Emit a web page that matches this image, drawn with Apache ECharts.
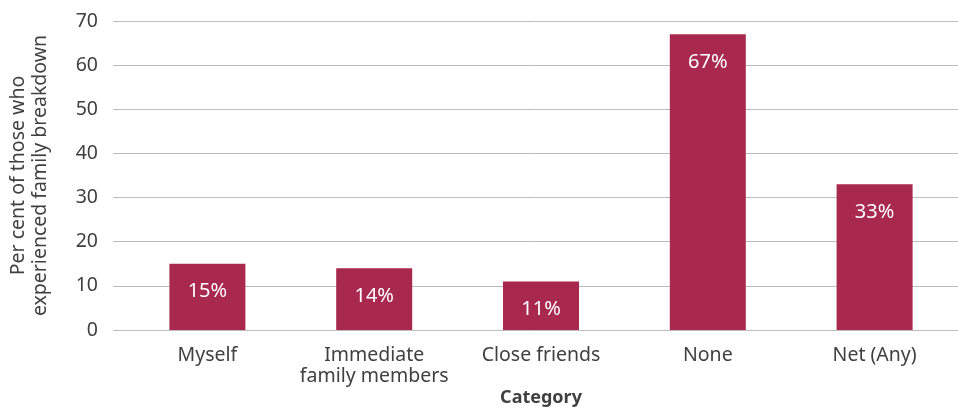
<!DOCTYPE html>
<html>
<head>
<meta charset="utf-8">
<script src="https://cdn.jsdelivr.net/npm/echarts@6/dist/echarts.min.js"></script>
<style>
  html, body { margin: 0; padding: 0; background: #ffffff; }
  #chart { width: 958px; height: 407px; }
</style>
</head>
<body>
<div id="chart"></div>
<script>
// Who in the respondent's circle experienced family breakdown
const categories = ['Myself', 'Immediate\nfamily members', 'Close friends', 'None', 'Net (Any)'];
const percentValues = [15, 14, 11, 67, 33];
const yTicks = [0, 10, 20, 30, 40, 50, 60, 70];

const yTitle = 'Per cent of those who\nexperienced family breakdown';
const xTitle = 'Category';

const FONT = '"Noto Sans", "Open Sans", sans-serif';
const TEXT = '#404040';
const BAR = '#a8284e';

const chart = echarts.init(document.getElementById('chart'), null, { renderer: 'canvas' });

chart.setOption({
  animation: false,
  backgroundColor: '#ffffff',
  grid: [
    // value grid: gridlines and tick labels, slightly wider than the category band
    { left: 113, right: 0, top: 21, bottom: 77, containLabel: false, outerBoundsMode: 'none' },
    // category grid holding the bars
    { left: 124, right: 0, top: 21, bottom: 77, containLabel: false, outerBoundsMode: 'none' }
  ],
  xAxis: [
    { gridIndex: 0, type: 'category', data: [''], show: false },
    {
      gridIndex: 1,
      type: 'category',
      data: categories,
      axisLine: { show: false },
      axisTick: { show: false },
      axisLabel: {
        color: TEXT,
        fontFamily: FONT,
        fontSize: 19.5,
        lineHeight: 21,
        margin: 15,
        interval: 0
      },
      name: xTitle,
      nameLocation: 'middle',
      nameGap: 59,
      nameMoveOverlap: false,
      nameTextStyle: { color: TEXT, fontFamily: FONT, fontSize: 18, fontWeight: 'bold' }
    }
  ],
  yAxis: [
    {
      gridIndex: 0,
      type: 'value',
      min: yTicks[0],
      max: yTicks[yTicks.length - 1],
      interval: yTicks[1] - yTicks[0],
      axisLine: { show: false },
      axisTick: { show: false },
      axisLabel: { color: TEXT, fontFamily: FONT, fontSize: 19.5, margin: 15 },
      splitLine: { show: true, lineStyle: { color: '#bcbcbc', width: 1 } },
      name: yTitle,
      nameLocation: 'middle',
      nameGap: 62,
      nameRotate: 90,
      nameMoveOverlap: false,
      nameTextStyle: { color: TEXT, fontFamily: FONT, fontSize: 19.5, lineHeight: 22, align: 'center' }
    },
    {
      gridIndex: 1,
      type: 'value',
      min: yTicks[0],
      max: yTicks[yTicks.length - 1],
      interval: yTicks[1] - yTicks[0],
      show: false,
      splitLine: { show: false }
    }
  ],
  series: [
    {
      type: 'bar',
      xAxisIndex: 1,
      yAxisIndex: 1,
      data: percentValues,
      barWidth: 76,
      itemStyle: { color: BAR },
      label: {
        show: true,
        position: 'insideTop',
        distance: 18,
        color: '#ffffff',
        fontFamily: FONT,
        fontSize: 20,
        formatter: p => p.value + '%'
      }
    }
  ]
});
</script>
</body>
</html>
